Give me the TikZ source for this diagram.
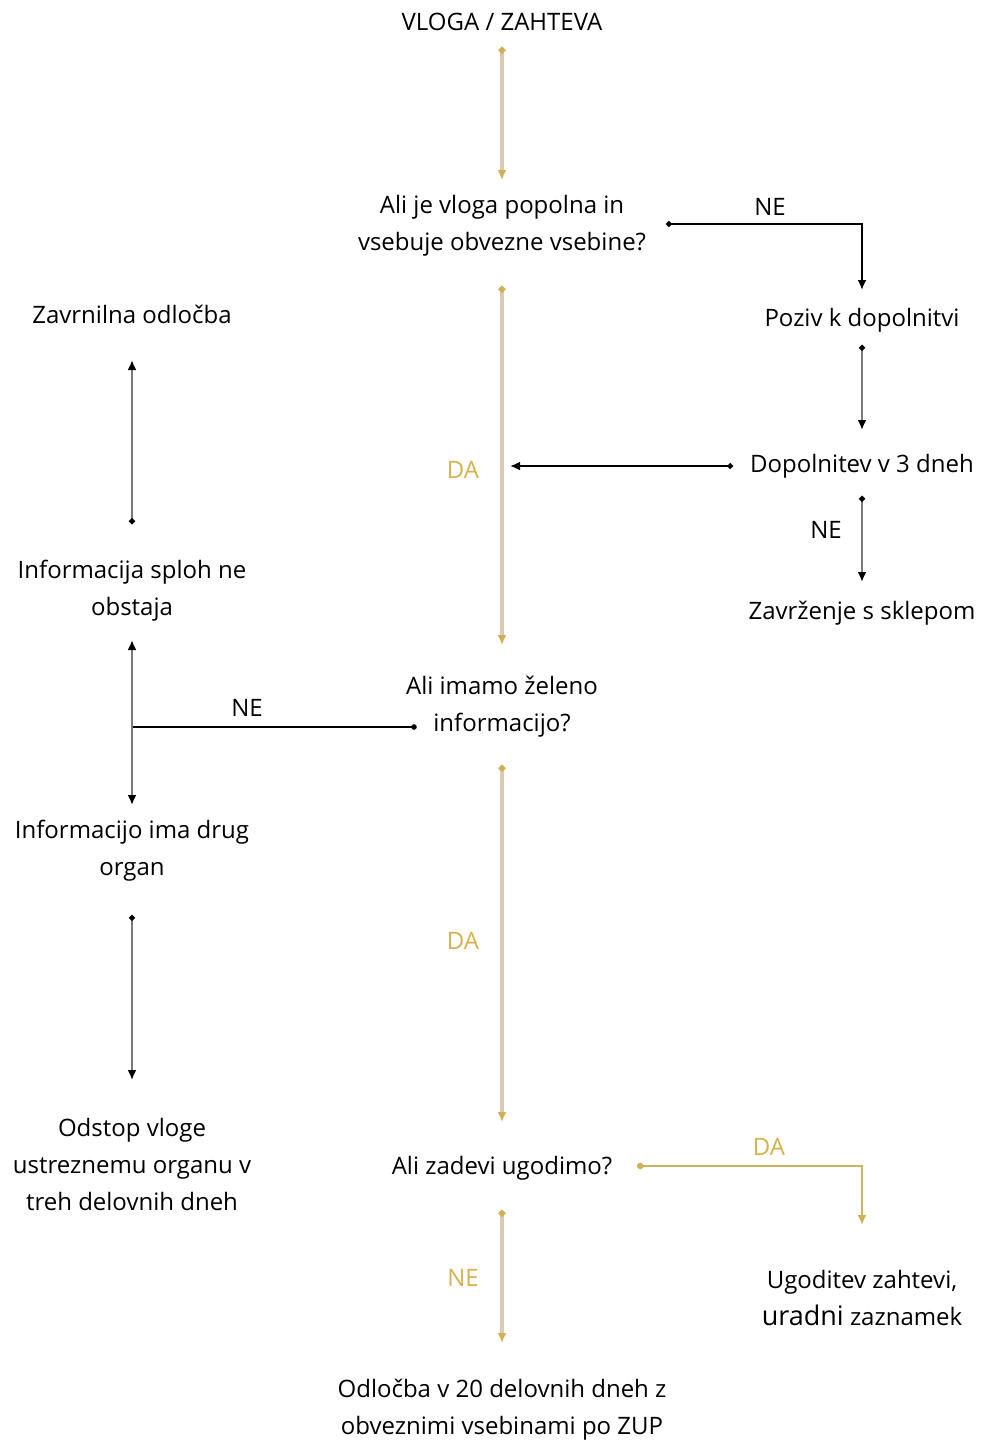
\documentclass[tikz,border=0pt]{standalone}
\usepackage{fontspec}
\setmainfont{Open Sans}
\usetikzlibrary{arrows.meta}
\definecolor{tanln}{HTML}{D8CCB4}
\definecolor{goldtip}{HTML}{D2AE55}
\definecolor{goldtxt}{HTML}{D6B24E}
\definecolor{goldln}{HTML}{CDB260}
\definecolor{gline}{HTML}{7A7A7A}
\begin{document}
\begin{tikzpicture}[x=0.5pt,y=-0.5pt,
 txt/.style={align=center,font=\fontsize{12}{18.5}\selectfont,inner sep=0pt},
 lbl/.style={font=\fontsize{12}{14}\selectfont,inner sep=0pt},
 yes/.style={lbl,text=goldtxt},
 trunk/.style={draw=tanln,line width=1.6pt,{Circle[length=3.2pt,color=goldtip]}-{Latex[length=5pt,width=4.5pt,color=goldtip]}},
 blk/.style={draw=black,line width=1pt,{Circle[length=2.8pt]}-{Latex[length=5pt,width=4.5pt]}},
 gry/.style={draw=gline,line width=1.2pt,{Circle[length=2.8pt,color=black]}-{Latex[length=5pt,width=4.5pt,color=black]}},
 gold/.style={draw=goldln,line width=1pt,{Circle[length=3.2pt,color=goldtip]}-{Latex[length=5pt,width=4.5pt,color=goldtip]}}
]
\fill[white] (0,0) rectangle (981,1440);
\useasboundingbox (0,0) rectangle (981,1440);

% nodes
\node[txt] (v) at (502,22) {VLOGA / ZAHTEVA};
\node[txt] (q1) at (502,226) {Ali je vloga popolna in\\vsebuje obvezne vsebine?};
\node[txt] (poz) at (862,320) {Poziv k dopolnitvi};
\node[txt] (dop) at (862,466) {Dopolnitev v 3 dneh};
\node[txt] (zav) at (862,613) {Zavrženje s sklepom};
\node[txt] (q2) at (502,707) {Ali imamo želeno\\informacijo?};
\node[txt] (zo) at (132,314) {Zavrnilna odločba};
\node[txt] (ne) at (132,591) {Informacija sploh ne\\obstaja};
\node[txt] (dr) at (132,851) {Informacijo ima drug\\organ};
\node[txt] (od) at (132,1164) {Odstop vloge\\ustreznemu organu v\\treh delovnih dneh};
\node[txt] (q3) at (502,1168) {Ali zadevi ugodimo?};
\node[txt] (ug) at (862,1298) {Ugoditev zahtevi,\\{\fontsize{13.5}{18.5}\selectfont uradni} zaznamek};
\node[txt] (odl) at (502,1410) {Odločba v 20 delovnih dneh z\\obveznimi vsebinami po ZUP};

% labels
\node[lbl] (ne1) at (770,207) {NE};
\node[yes] (da1) at (463,470) {DA};
\node[lbl] (ne2) at (826,530) {NE};
\node[lbl] (ne3) at (247,708) {NE};
\node[yes] (da2) at (463,941) {DA};
\node[yes] (da3) at (769,1147) {DA};
\node[yes] (ne4) at (463,1278) {NE};

% junctions
\coordinate (j1) at (510,466);
\coordinate (j2) at (132,727);

% connectors
\draw[trunk] (v |- 0,47) -- (q1 |- 0,180);
\draw[blk] (666,0 |- 0,224) -| (poz |- 0,290);
\draw[gry] (poz |- 0,345) -- (dop |- 0,430);
\draw[blk] (733,0 |- dop) -- (j1);
\draw[gry] (dop |- 0,496) -- (zav |- 0,582);
\draw[trunk] (q1 |- 0,286) -- (q2 |- 0,645);
\draw[blk,-] (414,0 |- j2) -- (j2);
\fill (414,0 |- j2) circle (1.4pt);
\draw[gry,-{Latex[length=5pt,width=4.5pt,color=black]}] (j2) -- (ne |- 0,640);
\draw[gry,-{Latex[length=5pt,width=4.5pt,color=black]}] (j2) -- (dr |- 0,805);
\draw[gry] (ne |- 0,524) -- (zo |- 0,360);
\draw[gry] (dr |- 0,915) -- (od |- 0,1080);
\draw[trunk] (q2 |- 0,765) -- (q3 |- 0,1122);
\draw[gold] (637,0 |- 0,1166) -| (ug |- 0,1225);
\draw[trunk] (q3 |- 0,1210) -- (odl |- 0,1343);
\end{tikzpicture}
\end{document}
